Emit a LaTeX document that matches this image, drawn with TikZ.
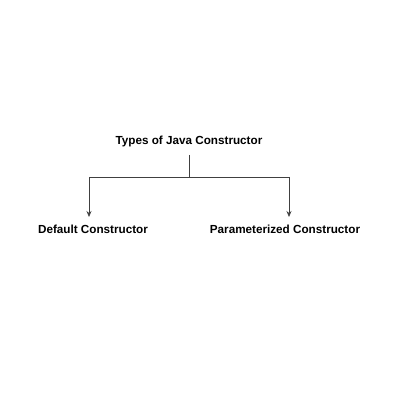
\documentclass[tikz,border=0pt]{standalone}
\usepackage{fontspec}
\setmainfont{Liberation Sans}
\usetikzlibrary{arrows.meta}
\begin{document}
\begin{tikzpicture}[x=1pt,y=1pt,
  lbl/.style={font=\fontsize{11.7}{14}\selectfont\bfseries, inner sep=0pt},
  conn/.style={draw=black!75, line width=0.7pt},
  arr/.style={conn, -{Stealth[length=6pt,width=5pt]}}]
\useasboundingbox[fill=white] (0,0) rectangle (400,400);
\node[lbl] (root) at (189,259) {Types of Java Constructor};
\node[lbl] (def) at (93,171) {Default Constructor};
\node[lbl] (par) at (285,171) {Parameterized Constructor};
\coordinate (j) at (189,223);
\coordinate (jl) at (89,223);
\coordinate (jr) at (289,223);
\coordinate (al) at (89,183);
\coordinate (ar) at (289,183);
\draw[conn] (root.south |- 0,245) -- (j);
\draw[conn] (jl) -- (jr);
\draw[arr] (jl) -- (al);
\draw[arr] (jr) -- (ar);
\end{tikzpicture}
\end{document}
